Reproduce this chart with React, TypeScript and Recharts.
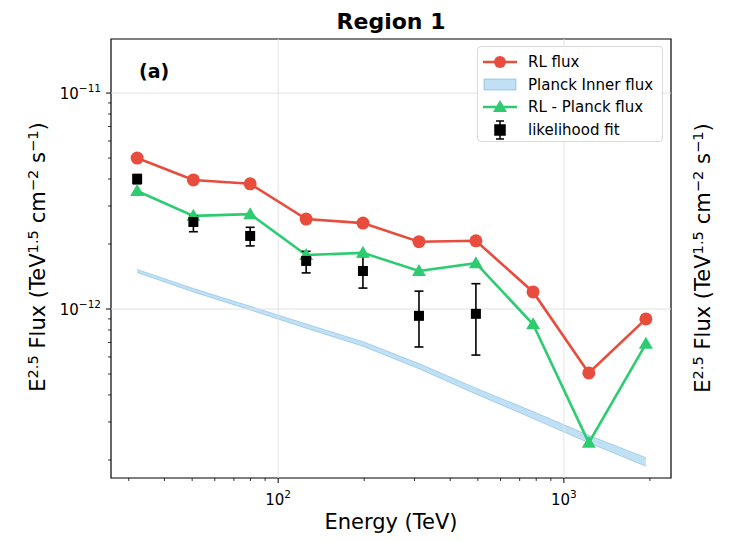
import React from "react";
import {
  ComposedChart,
  Line,
  Area,
  XAxis,
  YAxis,
  ErrorBar,
  ReferenceLine,
  ReferenceArea,
  Legend,
} from "recharts";

// energy bins (TeV)
const energy = [32.1, 50.5, 79.8, 125.3, 198, 311, 492, 780, 1222, 1936];
const rlFlux = [5.0e-12, 3.96e-12, 3.8e-12, 2.61e-12, 2.5e-12, 2.05e-12, 2.07e-12, 1.2e-12, 5.06e-13, 9.0e-13];
const rlMinusPlanck = [3.52e-12, 2.7e-12, 2.75e-12, 1.78e-12, 1.82e-12, 1.5e-12, 1.63e-12, 8.5e-13, 2.4e-13, 6.9e-13];
const planckLow = [1.475e-12, 1.2e-12, 9.9e-13, 8.15e-13, 6.72e-13, 5.29e-13, 4.04e-13, 3.11e-13, 2.4e-13, 1.87e-13];
const planckHigh = [1.525e-12, 1.245e-12, 1.03e-12, 8.53e-13, 7.06e-13, 5.59e-13, 4.3e-13, 3.35e-13, 2.6e-13, 2.05e-13];

// likelihood fit points
const fitEnergy = [32.1, 50.5, 79.8, 125.3, 198, 311, 492];
const fitFlux = [4.0e-12, 2.53e-12, 2.18e-12, 1.67e-12, 1.5e-12, 9.3e-13, 9.5e-13];
const fitLow = [3.8e-12, 2.28e-12, 1.96e-12, 1.47e-12, 1.25e-12, 6.67e-13, 6.12e-13];
const fitHigh = [4.2e-12, 2.7e-12, 2.39e-12, 1.85e-12, 1.75e-12, 1.21e-12, 1.31e-12];

const xMajor = [100, 1000];
const xTicks = [30, 40, 50, 60, 70, 80, 90, 100, 200, 300, 400, 500, 600, 700, 800, 900, 1000, 2000];
const yMajor = [1e-12, 1e-11];
const yTicks = [
  2e-13, 3e-13, 4e-13, 5e-13, 6e-13, 7e-13, 8e-13, 9e-13, 1e-12,
  2e-12, 3e-12, 4e-12, 5e-12, 6e-12, 7e-12, 8e-12, 9e-12, 1e-11,
];
const xDomain = [26, 2370];
const yDomain = [1.65e-13, 1.78e-11];

const RED = "#e74c3c";
const GREEN = "#2ecc71";
const BLUE = "#3498db";
const FONT = "'DejaVu Sans', sans-serif";

const rlData = energy.map((e, i) => ({ e, v: rlFlux[i] }));
const diffData = energy.map((e, i) => ({ e, v: rlMinusPlanck[i] }));
const planckData = energy.map((e, i) => ({ e, band: [planckLow[i], planckHigh[i]] }));
const fitData = fitEnergy.map((e, i) => ({
  e,
  v: fitFlux[i],
  err: [fitFlux[i] - fitLow[i], fitHigh[i] - fitFlux[i]],
}));

const expOf = (v: number) => Math.round(Math.log10(v));

const XTick = ({ x, y, payload }: any) => {
  const major = xMajor.includes(payload.value);
  return (
    <g>
      <line x1={x} x2={x} y1={y} y2={y + (major ? 5 : 3)} stroke="#000" strokeWidth={major ? 1 : 0.8} />
      {major && (
        <text x={x} y={y + 27} textAnchor="middle" fontSize={15} fontFamily={FONT} fill="#000">
          10
          <tspan dy={-7} fontSize={10.5}>
            {expOf(payload.value)}
          </tspan>
        </text>
      )}
    </g>
  );
};

const YTick = ({ x, y, payload }: any) => {
  const major = yMajor.includes(payload.value);
  return (
    <g>
      <line x1={x} x2={x - (major ? 5 : 3)} y1={y} y2={y} stroke="#000" strokeWidth={major ? 1 : 0.8} />
      {major && (
        <text x={x - 10} y={y + 6} textAnchor="end" fontSize={15} fontFamily={FONT} fill="#000">
          10
          <tspan dy={-7} fontSize={10.5}>
            {"\u2212" + Math.abs(expOf(payload.value))}
          </tspan>
        </text>
      )}
    </g>
  );
};

const Square = (p: any) => (
  <rect key={p.index} x={p.cx - 5} y={p.cy - 5} width={10} height={10} fill="#000" />
);

const Triangle = (p: any) => (
  <polygon
    key={p.index}
    points={`${p.cx},${p.cy - 7} ${p.cx - 7},${p.cy + 5} ${p.cx + 7},${p.cy + 5}`}
    fill={GREEN}
  />
);

const legendItems = [
  { label: "RL flux", kind: "circle" },
  { label: "Planck Inner flux", kind: "band" },
  { label: "RL - Planck flux", kind: "triangle" },
  { label: "likelihood fit", kind: "fit" },
];

const LegendIcon = ({ kind }: { kind: string }) => {
  if (kind === "circle")
    return (
      <g>
        <line x1={0} x2={34} y1={10} y2={10} stroke={RED} strokeWidth={2.6} />
        <circle cx={17} cy={10} r={6} fill={RED} />
      </g>
    );
  if (kind === "band")
    return <rect x={1} y={4} width={32} height={11} fill={BLUE} fillOpacity={0.3} stroke={BLUE} strokeOpacity={0.4} />;
  if (kind === "triangle")
    return (
      <g>
        <line x1={0} x2={34} y1={10} y2={10} stroke={GREEN} strokeWidth={2.6} />
        <polygon points="17,3 10,15 24,15" fill={GREEN} />
      </g>
    );
  return (
    <g stroke="#000" strokeWidth={1.5}>
      <line x1={17} x2={17} y1={1} y2={19} />
      <line x1={13} x2={21} y1={1} y2={1} />
      <line x1={13} x2={21} y1={19} y2={19} />
      <rect x={12} y={5} width={10} height={10} fill="#000" />
    </g>
  );
};

const LegendBox = () => (
  <div
    style={{
      width: 186,
      height: 96,
      boxSizing: "border-box",
      border: "1px solid #d9d9d9",
      borderRadius: 4,
      background: "rgba(255,255,255,0.85)",
      padding: "4px 0 0 5px",
      fontFamily: FONT,
      fontSize: 15,
      color: "#000",
    }}
  >
    {legendItems.map((it) => (
      <div key={it.label} style={{ display: "flex", alignItems: "center", height: 22.5 }}>
        <svg width={34} height={20}>
          <LegendIcon kind={it.kind} />
        </svg>
        <span style={{ marginLeft: 11, whiteSpace: "nowrap" }}>{it.label}</span>
      </div>
    ))}
  </div>
);

const sup: React.CSSProperties = { fontSize: "0.7em", verticalAlign: "0.5em", lineHeight: 0 };

const FluxLabel = ({ cx, cy }: { cx: number; cy: number }) => (
  <div
    style={{
      position: "absolute",
      left: cx - 200,
      top: cy - 12,
      width: 400,
      height: 24,
      lineHeight: "24px",
      textAlign: "center",
      transform: "rotate(-90deg)",
      transformOrigin: "center",
      fontFamily: FONT,
      fontSize: 21,
      whiteSpace: "nowrap",
      color: "#000",
    }}
  >
    E<span style={sup}>2.5</span> Flux (TeV<span style={sup}>1.5</span> cm<span style={sup}>{"\u22122"}</span> s
    <span style={sup}>{"\u22121"}</span>)
  </div>
);

export default function App() {
  return (
    <div
      style={{
        position: "absolute",
        left: 0,
        top: 0,
        width: 730,
        height: 542,
        background: "#fff",
        fontFamily: FONT,
        overflow: "hidden",
      }}
    >
      <ComposedChart width={730} height={542} margin={{ top: 39, right: 59, bottom: 30, left: 51 }}>
        <XAxis
          dataKey="e"
          type="number"
          scale="log"
          domain={xDomain}
          allowDataOverflow
          ticks={xTicks}
          interval={0}
          tick={<XTick />}
          tickLine={false}
          tickSize={0}
          tickMargin={0}
          axisLine={false}
          height={34}
        />
        <YAxis
          type="number"
          scale="log"
          domain={yDomain}
          allowDataOverflow
          ticks={yTicks}
          interval={0}
          tick={<YTick />}
          tickLine={false}
          tickSize={0}
          tickMargin={0}
          axisLine={false}
          width={60}
        />
        {xMajor.map((v) => (
          <ReferenceLine key={"gx" + v} x={v} stroke="#e3e3e3" strokeWidth={1} />
        ))}
        {yMajor.map((v) => (
          <ReferenceLine key={"gy" + v} y={v} stroke="#e3e3e3" strokeWidth={1} />
        ))}
        <Legend
          layout="horizontal"
          verticalAlign="middle"
          align="center"
          content={<LegendBox />}
          wrapperStyle={{ top: 46, left: 477, width: 186 }}
        />
        <Line
          data={rlData}
          dataKey="v"
          type="linear"
          stroke={RED}
          strokeWidth={2.6}
          dot={{ r: 6.5, fill: RED, stroke: RED, strokeWidth: 0 }}
          isAnimationActive={false}
        />
        <Area
          data={planckData}
          dataKey="band"
          type="linear"
          fill={BLUE}
          fillOpacity={0.3}
          stroke={BLUE}
          strokeOpacity={0.35}
          strokeWidth={1}
          isAnimationActive={false}
        />
        <Line
          data={diffData}
          dataKey="v"
          type="linear"
          stroke={GREEN}
          strokeWidth={2.6}
          dot={Triangle}
          isAnimationActive={false}
        />
        <Line
          data={fitData}
          dataKey="v"
          type="linear"
          stroke="none"
          dot={Square}
          isAnimationActive={false}
        >
          <ErrorBar dataKey="err" width={4.5} stroke="#000" strokeWidth={1.6} direction="y" />
        </Line>
        <ReferenceArea
          x1={xDomain[0]}
          x2={xDomain[1]}
          y1={yDomain[0]}
          y2={yDomain[1]}
          fill="none"
          stroke="#000"
          strokeWidth={1.2}
        />
      </ComposedChart>

      <div
        style={{
          position: "absolute",
          left: 111,
          width: 560,
          top: 9,
          textAlign: "center",
          fontSize: 22,
          fontWeight: "bold",
        }}
      >
        Region 1
      </div>
      <div style={{ position: "absolute", left: 139, top: 60, fontSize: 19, fontWeight: "bold" }}>(a)</div>
      <div
        style={{
          position: "absolute",
          left: 111,
          width: 560,
          top: 510,
          textAlign: "center",
          fontSize: 21,
        }}
      >
        Energy (TeV)
      </div>
      <FluxLabel cx={38} cy={257} />
      <FluxLabel cx={703} cy={258} />
    </div>
  );
}
